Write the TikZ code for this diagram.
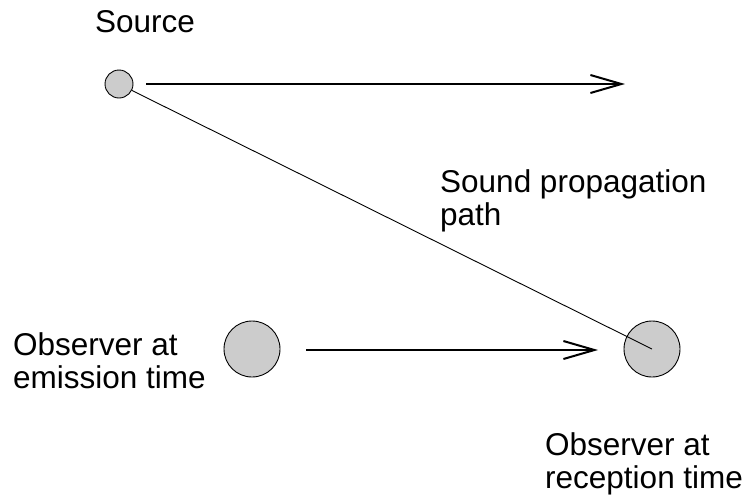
\documentclass[tikz,border=0pt]{standalone}
\usepackage{fontspec}
\setmainfont{Liberation Sans}
\usetikzlibrary{arrows.meta}
\begin{document}
\begin{tikzpicture}[x=1pt,y=-1pt,
  lbl/.style={font=\fontsize{31.5}{33}\selectfont, inner sep=0pt, align=left, anchor=base west},
  ball/.style={circle, draw=black, line width=0.9pt, fill=gray!40, inner sep=0pt},
  motion/.style={line width=2pt, -{Straight Barb[length=31pt,width=18pt]}},
  ray/.style={line width=0.9pt}]
\useasboundingbox (0,0) rectangle (752,499);
\coordinate (recc) at (652,349);
\node[ball, minimum size=28pt] (src) at (119,84) {};
\node[ball, minimum size=56pt] (emi) at (252,349) {};
\node[ball, minimum size=56pt] (rec) at (recc) {};
\draw[ray] (src) -- (recc);
\coordinate (srcStart) at (146,84);
\coordinate (srcEnd) at (625,84);
\coordinate (obsStart) at (306,350);
\coordinate (obsEnd) at (598,350);
\draw[motion] (srcStart) -- (srcEnd);
\draw[motion] (obsStart) -- (obsEnd);
\node[lbl] (tsrc) at (95,32) {Source};
\node[lbl] (tpath) at (440,225) {Sound propagation\\path};
\node[lbl] (temi) at (13,388) {Observer at\\emission time};
\node[lbl] (trec) at (545,488) {Observer at\\reception time};
\end{tikzpicture}
\end{document}
